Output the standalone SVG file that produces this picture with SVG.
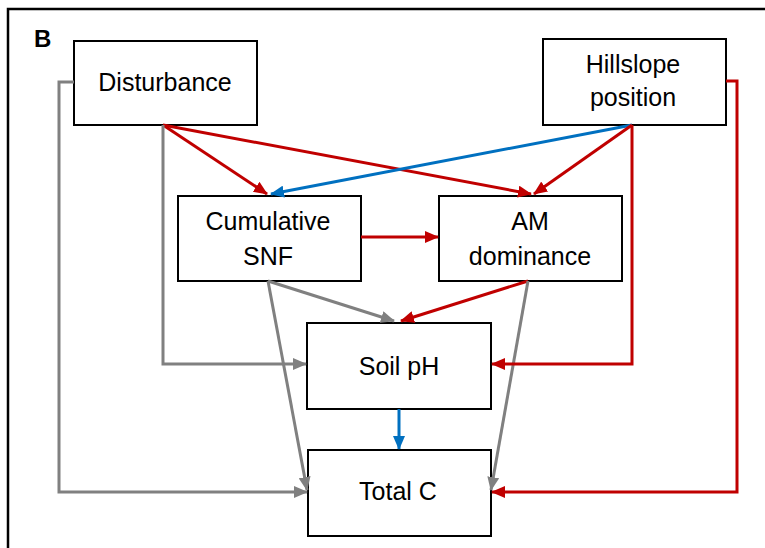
<svg xmlns="http://www.w3.org/2000/svg" width="765" height="548" viewBox="0 0 765 548">
<style>
.box{fill:#fff;stroke:#000;stroke-width:2}
.lbl{font-family:"Liberation Sans",Arial,sans-serif;font-size:25px;fill:#000;text-anchor:middle}
.panel{font-family:"Liberation Sans",Arial,sans-serif;font-size:24px;font-weight:bold;fill:#000}
.c{fill:none;stroke-width:3}
.red{stroke:#C00000;marker-end:url(#mr)}
.blue{stroke:#0070C0;marker-end:url(#mb)}
.gray{stroke:#808080;marker-end:url(#mg)}
</style>
<defs>
<marker id="mr" markerUnits="userSpaceOnUse" markerWidth="14" markerHeight="12" refX="13" refY="6" orient="auto"><path d="M0,0 L14,6 L0,12 z" fill="#C00000"/></marker>
<marker id="mb" markerUnits="userSpaceOnUse" markerWidth="14" markerHeight="12" refX="13" refY="6" orient="auto"><path d="M0,0 L14,6 L0,12 z" fill="#0070C0"/></marker>
<marker id="mg" markerUnits="userSpaceOnUse" markerWidth="14" markerHeight="12" refX="13" refY="6" orient="auto"><path d="M0,0 L14,6 L0,12 z" fill="#808080"/></marker>
</defs>
<rect x="0" y="0" width="765" height="548" fill="#fff"/>
<rect x="8" y="9" width="800" height="600" fill="none" stroke="#000" stroke-width="2.5"/>
<text class="panel" x="34" y="47">B</text>
<g id="disturbance"><rect class="box" x="74" y="41" width="183" height="84"/><text class="lbl" x="165" y="91">Disturbance</text></g>
<g id="hillslope"><rect class="box" x="543" y="39" width="183" height="86"/><text class="lbl" x="633" y="73">Hillslope</text><text class="lbl" x="633" y="106">position</text></g>
<g id="snf"><rect class="box" x="178" y="196" width="183" height="85"/><text class="lbl" x="268" y="230">Cumulative</text><text class="lbl" x="268" y="265">SNF</text></g>
<g id="am"><rect class="box" x="439" y="196" width="183" height="85"/><text class="lbl" x="530" y="230">AM</text><text class="lbl" x="530" y="265">dominance</text></g>
<g id="soilph"><rect class="box" x="307" y="323" width="184" height="86"/><text class="lbl" x="399" y="375">Soil pH</text></g>
<g id="totalc"><rect class="box" x="308" y="450" width="183" height="86"/><text class="lbl" x="398" y="500">Total C</text></g>
<g id="connectors">
<path class="c red" d="M163,125 L267,194"/>
<path class="c red" d="M163,125 L531,194"/>
<path class="c blue" d="M632,125 L271,194"/>
<path class="c red" d="M632,125 L534,194"/>
<path class="c red" d="M361,237 L438,237"/>
<path class="c gray" d="M268,281 L394,321"/>
<path class="c red" d="M528,281 L401,321"/>
<path class="c gray" d="M268,281 L307,490"/>
<path class="c gray" d="M528,281 L491,490"/>
<path class="c blue" d="M399,409 L399,449"/>
<path class="c gray" d="M163,125 L163,364 L306,364"/>
<path class="c gray" d="M74,82 L59,82 L59,492 L307,492"/>
<path class="c red" d="M632,125 L632,364 L492,364"/>
<path class="c red" d="M726,81 L737,81 L737,492 L492,492"/>
</g>
</svg>
